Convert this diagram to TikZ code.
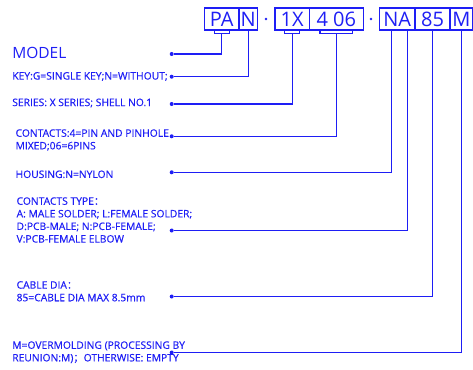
\documentclass[tikz,border=0pt]{standalone}
\usepackage{fontspec}
\setmainfont{Open Sans}
\newfontfamily\descfont[FakeBold=0.5]{Open Sans}
\newfontfamily\cjk[FakeBold=0.5]{Noto Sans CJK SC}
\usetikzlibrary{positioning}
\definecolor{codeblue}{RGB}{30,30,245}

\begin{document}
\begin{tikzpicture}[x=1pt,y=-1pt,line width=1.2pt,draw=codeblue,
  part/.style={draw=codeblue,text=codeblue,inner sep=0pt,outer sep=0pt,minimum height=22pt,font=\fontsize{20}{20}\selectfont},
  bracket/.style={draw=codeblue,inner sep=0pt,outer sep=0pt,minimum height=3.3pt,anchor=north},
  sep/.style={circle,fill=codeblue,inner sep=0pt,minimum size=2.6pt},
  bullet/.style={circle,fill=codeblue,inner sep=0pt,minimum size=4pt},
  desc/.style={text=codeblue,inner sep=0pt,anchor=west,align=left,font=\descfont\fontsize{10.3}{12.6}\selectfont}]
  \useasboundingbox (0,0) rectangle (473,369);

  % Codigo del conector
  \node[part,minimum width=34.7pt] (pa) at (221.7,19) {PA};
  \node[part,minimum width=18.3pt,right=0pt of pa] (n) {N};
  \node[sep] (dot1) at (266,19) {};
  \node[part,minimum width=34.3pt] (ix) at (292.1,19) {1X};
  \node[part,minimum width=54pt,right=0pt of ix] (cont) {4 06};
  \node[sep] (dot2) at (371,19) {};
  \node[part,minimum width=35.7pt] (na) at (397.2,19) {NA};
  \node[part,minimum width=35pt,right=0pt of na] (dia) {85};
  \node[part,minimum width=22.5pt,right=0pt of dia] (m) {M};

  % Pestanas bajo las cajas
  \node[bracket,minimum width=15pt] (pab) at (pa.south) {};
  \node[bracket,minimum width=15pt] (ixb) at (ix.south) {};
  \node[bracket,minimum width=32.7pt] (contb) at (cont.south) {};
  \coordinate (nan) at ([xshift=12.4pt]na.south west);
  \coordinate (naa) at ([xshift=28.2pt]na.south west);

  % Textos
  \node[desc,font=\fontsize{15.5}{16}\selectfont] (model) at (11.7,53) {MODEL};
  \node[desc] (key) at (11.7,76.5) {KEY:G=SINGLE KEY;N=WITHOUT;};
  \node[desc] (series) at (11.7,103) {SERIES: X SERIES; SHELL NO.1};
  \node[desc] (contacts) at (15,140) {CONTACTS:4=PIN AND PINHOLE\\MIXED;06=6PINS};
  \node[desc] (housing) at (15,174.3) {HOUSING:N=NYLON};
  \node[desc] (ctype) at (16,220) {CONTACTS TYPE{\cjk ：}\\A: MALE SOLDER; L:FEMALE SOLDER;\\D:PCB-MALE; N:PCB-FEMALE;\\V:PCB-FEMALE ELBOW};
  \node[desc] (cable) at (16,291.3) {CABLE DIA{\cjk ：}\\85=CABLE DIA MAX 8.5mm};
  \node[desc] (overm) at (11.7,352.2) {M=OVERMOLDING (PROCESSING BY\\REUNION:M){\cjk ；}OTHERWISE: EMPTY};

  % Puntos de llegada
  \node[bullet] (bmodel) at (171.7,54) {};
  \node[bullet] (bkey) at (171.7,76.7) {};
  \node[bullet] (bseries) at (171.7,104) {};
  \node[bullet] (bcont) at (171.7,136.3) {};
  \node[bullet] (bhous) at (171.7,172.3) {};
  \node[bullet] (btype) at (171.7,230.5) {};
  \node[bullet] (bcable) at (171.7,296.5) {};
  \node[bullet] (bover) at (171.7,352.5) {};

  % Lineas
  \foreach \from/\to in {pab/bmodel, n/bkey, ixb/bseries, contb/bcont, nan/bhous, naa/btype, dia/bcable, m/bover}
    \draw (\from) |- (\to);
\end{tikzpicture}
\end{document}
